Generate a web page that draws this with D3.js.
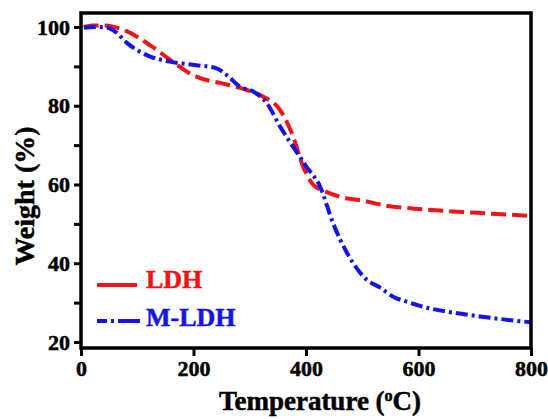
<!DOCTYPE html>
<html>
<head>
<meta charset="utf-8">
<script src="https://cdn.jsdelivr.net/npm/d3@7"></script>
<style>
  html, body { margin: 0; padding: 0; background: #fff; }
  svg text { font-family: "Liberation Serif", "Times New Roman", serif; font-weight: bold; }
</style>
</head>
<body>
<svg id="chart" width="548" height="419"></svg>
<script>
// ---- data ----
const ldhTemp = [5, 21, 40, 57, 80, 100, 118, 135, 153, 171, 190, 212, 247, 295, 324, 354, 377, 395, 413, 435, 460, 508, 543, 600, 668, 730, 800];
const ldhWeight = [100, 100.4, 100.4, 100.1, 99.0, 97.5, 95.8, 94.2, 92.2, 90.4, 88.5, 87.0, 85.8, 84.0, 82.3, 78.9, 72.2, 64.5, 59.9, 58.2, 56.9, 55.7, 54.6, 53.8, 53.1, 52.6, 52.0];

const mldhTemp = [5, 25, 45, 62, 82, 105, 123, 158, 199, 241, 259, 283, 306, 330, 354, 377, 401, 425, 448, 473, 508, 532, 555, 580, 615, 660, 709, 760, 800];
const mldhWeight = [99.8, 100, 99.9, 98.7, 95.9, 93.7, 92.5, 91.2, 90.4, 89.5, 87.8, 84.8, 83.6, 80.7, 74.7, 69.6, 64.5, 59.5, 50.2, 42.6, 35.8, 33.8, 31.5, 30.2, 28.7, 27.5, 26.5, 25.6, 25.0];

const xTicks = [0, 200, 400, 600, 800];
const yTicks = [20, 40, 60, 80, 100];
const yMinorTicks = [30, 50, 70, 90];
const seriesNames = ["LDH", "M-LDH"];

// ---- layout ----
const mLeft = 81, mRight = 531, mTop = 13, mBottom = 348;
const FONT = "'Liberation Serif', 'Times New Roman', serif";
const svg = d3.select("#chart");

const x = d3.scaleLinear().domain([0, 800]).range([mLeft, mRight]);
const y = d3.scaleLinear().domain([20, 100]).range([342, 27]);

const RED = "#f01414", BLUE = "#1414e6";

// ---- curves ----
const line = d3.line().x(d => x(d[0])).y(d => y(d[1])).curve(d3.curveMonotoneX);

svg.append("path")
  .datum(d3.zip(ldhTemp, ldhWeight))
  .attr("d", line)
  .attr("fill", "none").attr("stroke", RED).attr("stroke-width", 4)
  .attr("stroke-dasharray", "15,6");

svg.append("path")
  .datum(d3.zip(mldhTemp, mldhWeight))
  .attr("d", line)
  .attr("fill", "none").attr("stroke", BLUE).attr("stroke-width", 4)
  .attr("stroke-dasharray", "12,4,3,4");

// ---- axes ----
const xAxis = svg.append("g").attr("transform", `translate(0,${mBottom})`)
  .call(d3.axisBottom(x).tickValues(xTicks).tickSize(8).tickPadding(4).tickFormat(d3.format("d")));
const yAxis = svg.append("g").attr("transform", `translate(${mLeft},0)`)
  .call(d3.axisLeft(y).tickValues(yTicks).tickSize(7).tickPadding(4).tickFormat(d3.format("d")));
const yMinor = svg.append("g").attr("transform", `translate(${mLeft},0)`)
  .call(d3.axisLeft(y).tickValues(yMinorTicks).tickSize(7).tickFormat(""));

[xAxis, yAxis, yMinor].forEach(g => {
  g.attr("font-family", FONT).attr("font-size", 22).attr("font-weight", "bold");
  g.select(".domain").remove();
  g.selectAll(".tick line").attr("stroke", "#000").attr("stroke-width", 3);
  g.selectAll(".tick text").attr("fill", "#000")
    .attr("stroke", "#000").attr("stroke-width", 0.5)
    .attr("font-family", FONT).attr("font-weight", "bold").attr("font-size", 22);
});

// frame
svg.append("rect")
  .attr("x", mLeft).attr("y", mTop).attr("width", mRight - mLeft).attr("height", mBottom - mTop)
  .attr("fill", "none").attr("stroke", "#000").attr("stroke-width", 3.5);

// ---- axis titles ----
svg.append("text")
  .attr("transform", `translate(34,196) rotate(-90)`)
  .attr("text-anchor", "middle")
  .attr("stroke", "#000").attr("stroke-width", 0.5)
  .style("font-size", "28px")
  .text("Weight (%)");

const xt = svg.append("text")
  .attr("x", 320).attr("y", 410)
  .attr("text-anchor", "middle")
  .attr("stroke", "#000").attr("stroke-width", 0.5)
  .style("font-size", "27px");
xt.append("tspan").text("Temperature (");
xt.append("tspan").attr("dy", -9).style("font-size", "16px").text("o");
xt.append("tspan").attr("dy", 9).text("C)");

// ---- legend ----
const legend = svg.append("g");
legend.append("line")
  .attr("x1", 97).attr("x2", 137).attr("y1", 285).attr("y2", 285)
  .attr("stroke", RED).attr("stroke-width", 4);
legend.append("line")
  .attr("x1", 97).attr("x2", 140).attr("y1", 321).attr("y2", 321)
  .attr("stroke", BLUE).attr("stroke-width", 4)
  .attr("stroke-dasharray", "10,4,3,4,26");
legend.append("text").attr("x", 146).attr("y", 288).attr("fill", RED)
  .attr("stroke", RED).attr("stroke-width", 0.5)
  .style("font-size", "26px").text(seriesNames[0]);
legend.append("text").attr("x", 146).attr("y", 326).attr("fill", BLUE)
  .attr("stroke", BLUE).attr("stroke-width", 0.5)
  .style("font-size", "26px").text(seriesNames[1]);
</script>
</body>
</html>
